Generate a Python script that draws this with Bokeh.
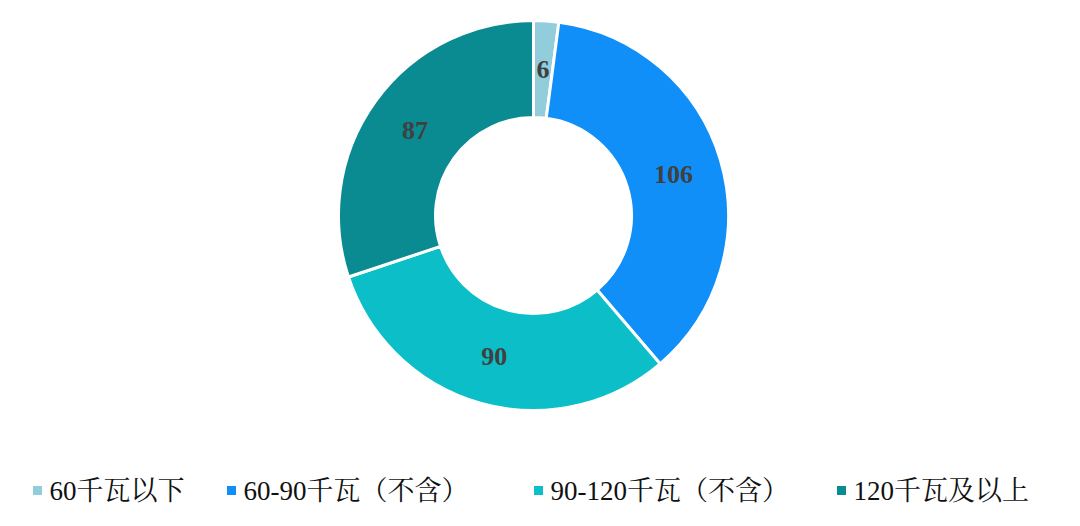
import math
from bokeh.plotting import figure
from bokeh.models import Range1d, ColumnDataSource
from bokeh.core.properties import value
from bokeh.embed import file_html
from bokeh.resources import INLINE

categories = ["60千瓦以下", "60-90千瓦（不含）", "90-120千瓦（不含）", "120千瓦及以上"]
values = [6, 106, 90, 87]
colors = ["#92CDDC", "#118FF8", "#0CBEC8", "#0A8A91"]

W, H = 1064, 510
cx, cy = 533, 295
r_out, r_in, r_lab = 195, 98, 146

total = sum(values)
starts, ends, lx, ly = [], [], [], []
cum = 0
for v in values:
    a0 = math.pi / 2 - 2 * math.pi * cum / total
    a1 = math.pi / 2 - 2 * math.pi * (cum + v) / total
    starts.append(a1)
    ends.append(a0)
    mid = (a0 + a1) / 2
    lx.append(cx + r_lab * math.cos(mid))
    ly.append(cy + r_lab * math.sin(mid))
    cum += v

src = ColumnDataSource(dict(start=starts, end=ends, color=colors,
                            lx=lx, ly=ly, lab=[str(v) for v in values]))

p = figure(width=W, height=H, output_backend="svg", toolbar_location=None,
           x_range=Range1d(0, W), y_range=Range1d(0, H), min_border=0)
p.axis.visible = False
p.grid.visible = False
p.outline_line_color = None
p.background_fill_color = "white"

p.annular_wedge(x=cx, y=cy, inner_radius=r_in, outer_radius=r_out,
                start_angle="start", end_angle="end", fill_color="color",
                line_color="white", line_width=3, source=src)

font = value("'Liberation Serif', 'Noto Serif CJK SC', 'Noto Sans CJK SC', serif")
p.text(x="lx", y="ly", text="lab", source=src, text_align="center",
       text_baseline="middle", text_font=font, text_font_style="bold",
       text_font_size="26px", text_color="#404040")

# legend
leg_x = [49, 243, 550, 853]
leg_y = 20
p.rect(x=[x - 12 for x in leg_x], y=[leg_y] * 4, width=9, height=9,
       fill_color=colors, line_color=None)
p.text(x=leg_x, y=[leg_y] * 4, text=categories, text_align="left",
       text_baseline="middle", text_font=font, text_font_size="27px",
       text_color="#111111")

open("out.html", "w").write(file_html(p, INLINE))
